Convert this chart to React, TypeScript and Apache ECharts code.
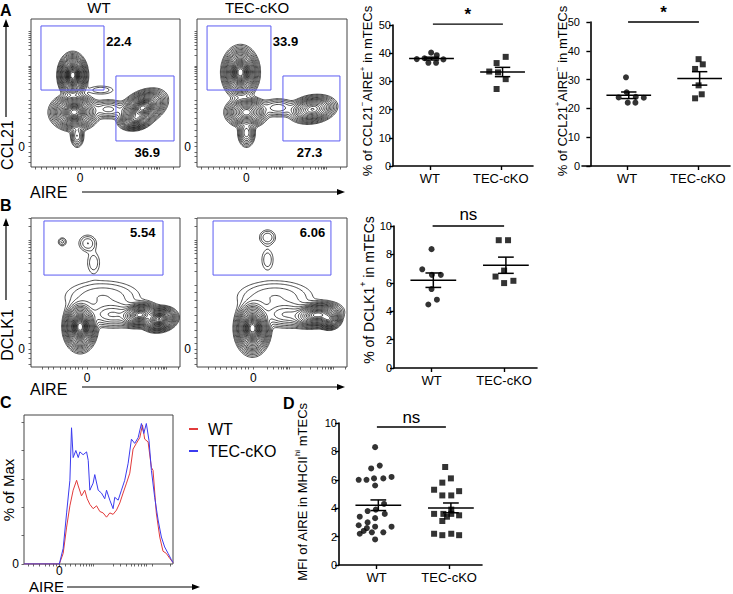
import React, { useEffect, useRef } from 'react';
import * as echarts from 'echarts';

const FONT = '"Liberation Sans", Arial, Helvetica, sans-serif';

// ---------- Scatter data (x = jitter position, y = value) ----------
const CAT_X = [1.05, 3.08];
const CAT_NAMES = ['WT', 'TEC-cKO'];

const a1WT: number[][] = [[0.68, 37.9], [0.9, 38.2], [1.09, 40.2], [1.25, 39.3], [1.01, 36.6], [1.23, 36.6], [1.44, 37.8]];
const a1KO: number[][] = [[3.22, 38.7], [2.96, 36.5], [2.75, 33.5], [3.0, 33.2], [3.22, 30.8], [2.96, 27.3]];

const a2WT: number[][] = [[0.81, 23.8], [1.04, 25.6], [1.02, 30.8], [1.53, 23.7], [1.07, 22.0], [1.29, 22.0], [1.3, 24.0]];
const a2KO: number[][] = [[3.1, 37.1], [3.22, 35.3], [3.0, 33.7], [3.1, 28.0], [3.19, 24.9], [3.0, 23.5]];

const bWT: number[][] = [[1.05, 8.37], [0.79, 6.95], [1.06, 6.56], [1.31, 6.56], [1.05, 5.56], [1.2, 4.81], [0.96, 4.47]];
const bKO: number[][] = [[2.93, 9.0], [3.19, 9.0], [3.08, 6.86], [2.84, 6.44], [3.34, 6.14], [3.08, 5.98]];

const dWT: number[][] = [
  [1.01, 8.3], [0.9, 6.8], [1.14, 7.0], [0.55, 6.0], [0.77, 6.0], [0.98, 6.1], [1.24, 6.1], [1.47, 6.2], [1.01, 5.6],
  [1.26, 4.3], [1.03, 3.9], [0.8, 3.8], [1.28, 3.6], [0.58, 3.4], [1.01, 3.3], [0.8, 3.0],
  [0.55, 2.8], [1.47, 2.7], [1.01, 2.7], [0.78, 2.6], [0.69, 2.4], [0.92, 2.3], [1.24, 2.3], [0.58, 2.2], [1.01, 1.8],
];
const dKO: number[][] = [
  [2.97, 6.9], [3.13, 6.1], [2.89, 5.8], [2.66, 5.3], [3.36, 5.2], [2.89, 4.9], [3.14, 4.9],
  [3.14, 3.9], [2.92, 3.6], [2.66, 3.6], [3.14, 3.6], [3.36, 3.5], [3.02, 3.4], [2.89, 3.1],
  [2.66, 2.2], [2.89, 2.1], [3.14, 2.2], [3.36, 2.1],
];

// significance annotations: [x1, x2, yLine, yText]
const SIG_A1 = [1.14, 3.14, 50.3, 53.8];
const SIG_A2 = [1.08, 3.11, 50.0, 53.4];
const SIG_B = [1.08, 3.08, 10.0, 10.8];
const SIG_D = [1.06, 2.99, 9.72, 10.4];

// ---------- Histogram (panel C): [AIRE position, % of max] ----------
const histWT: number[][] = [
  [0, 0], [23.7, 0], [26.3, 7.5], [28.6, 26], [30.8, 41], [33.0, 52], [35.3, 59], [36.4, 55], [38.6, 48], [40.8, 52],
  [42.4, 46], [44.2, 42], [46.4, 39], [48.7, 41], [50.9, 37], [53.1, 36], [55.4, 33], [57.6, 36], [59.8, 35],
  [62.1, 38], [64.3, 43], [66.5, 50], [68.8, 57], [71.0, 64], [73.2, 81], [75.4, 85], [77.7, 89], [79.5, 98],
  [81.0, 88], [83.3, 86], [85.5, 68], [86.6, 66], [88.8, 36], [91.1, 19], [93.3, 9], [95.5, 7.5], [97.8, 4], [100, 1],
];
const histKO: number[][] = [
  [0, 0], [23.7, 0], [26.3, 11], [28.6, 36], [30.8, 59], [31.9, 96], [33.0, 75], [34.8, 80], [36.4, 75], [37.5, 79],
  [39.7, 77], [42.0, 79], [43.1, 73], [44.2, 52], [46.4, 57], [47.5, 63], [49.8, 52], [52.0, 50], [54.2, 46],
  [55.4, 52], [57.6, 45], [59.8, 39], [60.9, 47], [63.2, 45], [65.4, 52], [67.6, 59], [69.9, 71], [72.1, 88],
  [74.3, 85], [76.6, 89], [78.8, 99], [80.4, 92], [82.1, 99], [83.9, 87], [85.5, 66], [87.7, 47], [90.0, 31],
  [92.2, 19], [94.4, 12], [96.7, 7.5], [98.9, 3], [100, 1],
];
const HIST_X_TICKS = [2.9, 6.3, 10.3, 14.1, 17.0, 19.6, 21.4, 23.7, 27.5, 30.8, 34.2, 37.5, 39.7, 42.0, 43.8, 44.9, 46.4, 60.0, 64.5, 68.8, 72.1, 74.3, 76.6, 78.8, 80.6, 82.1, 86.2, 98.0];
const HIST_X_ZERO = 23.7;
const HIST_Y_TICKS = [0, 20, 40, 60, 80, 100];

// ---------- Flow plots: populations [cx, cy, sx, sy, angleDeg, weight] in box units 0..100 ----------
const popsAWT: number[][] = [
  [28, 62, 3.3, 5.0, 0, 1.0], [29, 37, 5.5, 4.2, 0, 0.85],
  [75, 40, 5.8, 3.6, 28, 0.9], [70, 32, 4, 2.5, 10, 0.45], [52, 39, 6, 3, 0, 0.05],
  [31, 21, 2, 3.5, 0, 0.06], [47, 52, 6, 2, 0, 0.012],
];
const popsAKO: number[][] = [
  [29, 64, 4.1, 5.8, 0, 1.0], [33, 37, 5, 3.7, 0, 0.5], [33, 23, 2.4, 4, 0, 0.1],
  [77, 39, 5.7, 3.3, 10, 0.45], [54, 40, 6, 3, 0, 0.04],
];
const popsBWT: number[][] = [
  [33, 27, 3.8, 5.6, 0, 1.0], [73, 35, 4.6, 2.9, 10, 0.6], [86, 32, 4.3, 2.9, 10, 0.75],
  [55, 35, 9, 4, 0, 0.06], [48, 47, 15, 6.5, 0, 0.02], [21, 84, 1.8, 1.8, 0, 0.015],
  [38, 83, 3.5, 3.3, 0, 0.02], [42, 70, 3, 5, 0, 0.012],
];
const popsBKO: number[][] = [
  [37, 26, 4, 6, 0, 1.0], [80, 35, 6, 3, 8, 0.6], [88, 32, 3, 2.5, 0, 0.4],
  [60, 35, 9, 4, 0, 0.06], [52, 47, 15, 6.5, 0, 0.02], [47, 87, 3.2, 3, 0, 0.02], [47, 72, 2.8, 5, 0, 0.012],
];
const CONTOUR_LEVELS = [0.92, 0.86, 0.8, 0.74, 0.68, 0.62, 0.56, 0.5, 0.44, 0.38, 0.32, 0.26, 0.2, 0.15, 0.11, 0.08, 0.06, 0.043, 0.03, 0.02, 0.013, 0.008, 0.005];

// gates [x1, y1, x2, y2] and gate labels [x, y]
const gatesAWT = [[6.7, 52, 49.0, 95.3], [57.0, 17.6, 96.0, 61.5]];
const gatesAKO = [[6.7, 52, 49.3, 95.3], [57.3, 17.6, 95.3, 61.5]];
const gatesBWT = [[8.7, 61.7, 88.6, 98]];
const gatesBKO = [[10.7, 61.7, 89.3, 98]];
const labelsAWT = ['22.4', '36.9'];
const labelPosAWT = [[59, 85], [78, 9.5]];
const labelsAKO = ['33.9', '27.3'];
const labelPosAKO = [[59, 85], [75, 9.5]];
const labelsBWT = ['5.54'];
const labelPosBWT = [[75, 90.6]];
const labelsBKO = ['6.06'];
const labelPosBKO = [[77, 90.6]];

const FLOW_X_TICKS_A = [2.7, 7.2, 10.5, 15, 18.3, 21.7, 25, 27.3, 29.5, 32.9, 41.8, 46.3, 49.2, 51.2, 53, 54.6, 55.7, 56.8, 64.2, 70.9, 75.4, 78.7, 81, 82.6, 83.9, 85, 86.1, 95.5];
const FLOW_X_TICKS_B = [7.4, 11.9, 15.2, 19.7, 23, 26.4, 29.7, 32, 34.2, 37.6, 46.5, 51, 53.9, 55.9, 57.7, 59.3, 60.4, 61.5, 68.9, 75.6, 80.1, 83.4, 85.7, 87.3, 88.6, 89.7, 90.8, 99];
const FLOW_Y_TICKS_A = [3, 7, 10, 13.7, 17, 21, 25, 29, 33, 37, 40, 42.5, 45.3, 52.3, 56.3, 59.2, 61.4, 63.3, 64.8, 66.2, 67.3, 68.4, 75.3, 79.4, 82.2, 84.5, 86.3, 87.8, 89.2, 90.3, 91.4];
const FLOW_Y_TICKS_B = [2, 6, 9, 12.1, 16, 20, 25, 30, 35, 40, 45, 50, 55, 64.1, 69.4, 73.2, 76.1, 78.5, 80.5, 82.3, 83.8, 85.2, 94.3, 99.6];
const FLOW_X_ZERO_A = 32.9;
const FLOW_X_ZERO_B = 37.6;
const FLOW_Y_ZERO_A = 13.7;
const FLOW_Y_ZERO_B = 12.1;

// ---------- contour computation (marching squares over population densities) ----------
function contourSegments(pops: number[][], levels: number[], N = 120): number[] {
  const h = 100 / N;
  const W = N + 1;
  const g = new Float64Array(W * W);
  let mx = 0;
  const pre = pops.map(([cx, cy, sx, sy, ang, w]) => {
    const a = (ang * Math.PI) / 180;
    return [cx, cy, sx, sy, Math.cos(a), Math.sin(a), w];
  });
  for (let j = 0; j < W; j++) {
    for (let i = 0; i < W; i++) {
      const x = i * h, y = j * h;
      let s = 0;
      for (const [cx, cy, sx, sy, c, sn, w] of pre) {
        const dx = x - cx, dy = y - cy;
        const u = (dx * c + dy * sn) / sx;
        const v = (-dx * sn + dy * c) / sy;
        s += w * Math.exp(-0.5 * (u * u + v * v));
      }
      g[j * W + i] = s;
      if (s > mx) mx = s;
    }
  }
  const segs: number[] = [];
  const table: number[][] = [
    [], [3, 0], [0, 1], [3, 1], [1, 2], [3, 0, 1, 2], [0, 2], [3, 2],
    [2, 3], [0, 2], [0, 1, 2, 3], [1, 2], [3, 1], [0, 1], [3, 0], [],
  ];
  for (const lv of levels) {
    const t = lv * mx;
    for (let j = 0; j < N; j++) {
      for (let i = 0; i < N; i++) {
        const a = g[j * W + i], b = g[j * W + i + 1], c = g[(j + 1) * W + i + 1], d = g[(j + 1) * W + i];
        const idx = (a > t ? 1 : 0) | (b > t ? 2 : 0) | (c > t ? 4 : 0) | (d > t ? 8 : 0);
        if (idx === 0 || idx === 15) continue;
        const x0 = i * h, y0 = j * h;
        const ep = (e: number): number[] => {
          if (e === 0) return [x0 + ((t - a) / (b - a)) * h, y0];
          if (e === 1) return [x0 + h, y0 + ((t - b) / (c - b)) * h];
          if (e === 2) return [x0 + ((t - d) / (c - d)) * h, y0 + h];
          return [x0, y0 + ((t - a) / (d - a)) * h];
        };
        const tb = table[idx];
        for (let k = 0; k < tb.length; k += 2) {
          const p = ep(tb[k]), q = ep(tb[k + 1]);
          segs.push(p[0], p[1], q[0], q[1]);
        }
      }
    }
  }
  return segs;
}

const ContourPath = (echarts as any).graphic.extendShape({
  shape: { segs: [] as number[] },
  buildPath(ctx: any, shape: any) {
    const s = shape.segs;
    for (let k = 0; k + 3 < s.length; k += 4) {
      ctx.moveTo(s[k], s[k + 1]);
      ctx.lineTo(s[k + 2], s[k + 3]);
    }
  },
});
(echarts as any).graphic.registerShape('contourPath', ContourPath);

function mean(v: number[]) { return v.reduce((s, x) => s + x, 0) / v.length; }
function sem(v: number[]) {
  const m = mean(v);
  const sd = Math.sqrt(v.reduce((s, x) => s + (x - m) * (x - m), 0) / (v.length - 1));
  return sd / Math.sqrt(v.length);
}

const GATE_COLOR = '#5b5bf2';

export default function App() {
  const ref = useRef<HTMLDivElement>(null);
  useEffect(() => {
    if (!ref.current) return;
    const chart = echarts.init(ref.current, undefined, { renderer: 'svg' });

    const grids: any[] = [];
    const xAxes: any[] = [];
    const yAxes: any[] = [];
    const series: any[] = [];

    const flowPanel = (
      box: number[], pops: number[][], gates: number[][], labels: string[], labelPos: number[][],
      xTicks: number[], yTicks: number[], xZero: number, yZero: number,
    ) => {
      const gi = grids.length;
      grids.push({ left: box[0], top: box[1], width: box[2], height: box[3], show: true, borderColor: '#444', borderWidth: 1, backgroundColor: 'transparent' });
      const tickStyle = { show: true, length: 2.5, lineStyle: { color: '#444', width: 0.8 } };
      xAxes.push({
        gridIndex: gi, type: 'value', min: 0, max: 100, axisLine: { show: false }, splitLine: { show: false },
        axisTick: { ...tickStyle, customValues: xTicks },
        axisLabel: { customValues: [xZero], formatter: () => '0', fontSize: 12, color: '#000', fontFamily: FONT, margin: 5 },
      });
      yAxes.push({
        gridIndex: gi, type: 'value', min: 0, max: 100, axisLine: { show: false }, splitLine: { show: false },
        axisTick: { ...tickStyle, customValues: yTicks },
        axisLabel: { customValues: [yZero], formatter: () => '0', fontSize: 12, color: '#000', fontFamily: FONT, margin: 6 },
      });
      const segs = contourSegments(pops, CONTOUR_LEVELS);
      series.push({
        type: 'custom', xAxisIndex: gi, yAxisIndex: gi, silent: true, clip: true, data: [[0, 0]],
        renderItem: (_p: any, api: any) => {
          const p0 = api.coord([0, 0]);
          const p1 = api.coord([100, 100]);
          const kx = (p1[0] - p0[0]) / 100, ky = (p1[1] - p0[1]) / 100;
          const out: number[] = new Array(segs.length);
          for (let k = 0; k < segs.length; k += 2) {
            out[k] = p0[0] + segs[k] * kx;
            out[k + 1] = p0[1] + segs[k + 1] * ky;
          }
          return { type: 'contourPath', shape: { segs: out }, style: { stroke: '#000', lineWidth: 0.7, fill: null } };
        },
      });
      series.push({
        type: 'custom', xAxisIndex: gi, yAxisIndex: gi, silent: true, data: gates,
        renderItem: (_p: any, api: any) => {
          const a = api.coord([api.value(0), api.value(3)]);
          const b = api.coord([api.value(2), api.value(1)]);
          return { type: 'rect', shape: { x: a[0], y: a[1], width: b[0] - a[0], height: b[1] - a[1] }, style: { stroke: GATE_COLOR, fill: null, lineWidth: 1 } };
        },
      });
      series.push({
        type: 'custom', xAxisIndex: gi, yAxisIndex: gi, silent: true, data: labelPos,
        renderItem: (p: any, api: any) => {
          const a = api.coord([api.value(0), api.value(1)]);
          return { type: 'text', x: a[0], y: a[1], style: { text: labels[p.dataIndex], fontSize: 13, fontWeight: 'bold', fontFamily: FONT, fill: '#000', align: 'center', verticalAlign: 'middle' } };
        },
      });
    };

    const scatterPanel = (
      box: number[], xmin: number, ymax: number, yint: number, wt: number[][], ko: number[][], sig: number[], sigText: string, sigSize: number, sigBold: boolean, id: string,
    ) => {
      const gi = grids.length;
      grids.push({ left: box[0], top: box[1], width: box[2], height: box[3] });
      const axisLine = { show: true, lineStyle: { color: '#000', width: 1.6 } };
      xAxes.push({
        gridIndex: gi, type: 'value', min: xmin, max: 4, axisLine, splitLine: { show: false },
        axisTick: { show: true, length: 4, customValues: CAT_X, lineStyle: { color: '#000', width: 1.4 } },
        axisLabel: {
          customValues: CAT_X, fontSize: 13, color: '#000', fontFamily: FONT, margin: 6,
          formatter: (v: number) => (Math.abs(v - CAT_X[0]) < 0.01 ? CAT_NAMES[0] : CAT_NAMES[1]),
        },
      });
      yAxes.push({
        gridIndex: gi, type: 'value', min: 0, max: ymax, interval: yint, axisLine, splitLine: { show: false },
        axisTick: { show: true, length: 4, lineStyle: { color: '#000', width: 1.4 } },
        axisLabel: { fontSize: 11, color: '#000', fontFamily: FONT, margin: 2 },
      });
      series.push({ name: id + '-wt', type: 'scatter', xAxisIndex: gi, yAxisIndex: gi, data: wt, symbol: 'circle', symbolSize: 6, itemStyle: { color: '#000' }, silent: true });
      series.push({ name: id + '-ko', type: 'scatter', xAxisIndex: gi, yAxisIndex: gi, data: ko, symbol: 'rect', symbolSize: 6, itemStyle: { color: '#000' }, silent: true });
      const stats = [
        [CAT_X[0] + 0.05, mean(wt.map((d) => d[1])), sem(wt.map((d) => d[1]))],
        [CAT_X[1] + 0.05, mean(ko.map((d) => d[1])), sem(ko.map((d) => d[1]))],
      ];
      series.push({
        type: 'custom', xAxisIndex: gi, yAxisIndex: gi, silent: true, clip: false, data: stats,
        renderItem: (_p: any, api: any) => {
          const x = api.value(0), m = api.value(1), s = api.value(2);
          const L = (x1: number, y1: number, x2: number, y2: number) => {
            const a = api.coord([x1, y1]), b = api.coord([x2, y2]);
            return { type: 'line', shape: { x1: a[0], y1: a[1], x2: b[0], y2: b[1] }, style: { stroke: '#000', lineWidth: 1.5 } };
          };
          return { type: 'group', children: [L(x - 0.64, m, x + 0.64, m), L(x - 0.22, m + s, x + 0.22, m + s), L(x - 0.22, m - s, x + 0.22, m - s), L(x, m - s, x, m + s)] };
        },
      });
      series.push({
        type: 'custom', xAxisIndex: gi, yAxisIndex: gi, silent: true, clip: false, data: [sig],
        renderItem: (_p: any, api: any) => {
          const a = api.coord([api.value(0), api.value(2)]);
          const b = api.coord([api.value(1), api.value(2)]);
          const t = api.coord([(api.value(0) + api.value(1)) / 2, api.value(3)]);
          return {
            type: 'group', children: [
              { type: 'line', shape: { x1: a[0], y1: a[1], x2: b[0], y2: b[1] }, style: { stroke: '#000', lineWidth: 1.3 } },
              { type: 'text', x: t[0], y: t[1], style: { text: sigText, fontSize: sigSize, fontWeight: sigBold ? 'bold' : 'normal', fontFamily: FONT, fill: '#000', align: 'center', verticalAlign: 'middle' } },
            ],
          };
        },
      });
    };

    // Panel A
    flowPanel([31, 19, 149, 148], popsAWT, gatesAWT, labelsAWT, labelPosAWT, FLOW_X_TICKS_A, FLOW_Y_TICKS_A, FLOW_X_ZERO_A, FLOW_Y_ZERO_A);
    flowPanel([197, 19, 150, 148], popsAKO, gatesAKO, labelsAKO, labelPosAKO, FLOW_X_TICKS_A, FLOW_Y_TICKS_A, FLOW_X_ZERO_A, FLOW_Y_ZERO_A);
    scatterPanel([393, 25, 140, 141], 0, 50, 10, a1WT, a1KO, SIG_A1, '*', 17, true, 'a1');
    scatterPanel([582, 22, 148, 144], -0.24, 50, 10, a2WT, a2KO, SIG_A2, '*', 17, true, 'a2');
    // Panel B
    flowPanel([31, 218, 149, 149], popsBWT, gatesBWT, labelsBWT, labelPosBWT, FLOW_X_TICKS_B, FLOW_Y_TICKS_B, FLOW_X_ZERO_B, FLOW_Y_ZERO_B);
    flowPanel([197, 218, 150, 149], popsBKO, gatesBKO, labelsBKO, labelPosBKO, FLOW_X_TICKS_B, FLOW_Y_TICKS_B, FLOW_X_ZERO_B, FLOW_Y_ZERO_B);
    scatterPanel([394, 226, 143, 142], 0, 10, 2, bWT, bKO, SIG_B, 'ns', 17, false, 'b');

    // Panel C histogram
    const hc = grids.length;
    grids.push({ left: 24, top: 415, width: 149, height: 149, show: true, borderColor: '#444', borderWidth: 1, backgroundColor: 'transparent' });
    xAxes.push({
      gridIndex: hc, type: 'value', min: 0, max: 100, axisLine: { show: false }, splitLine: { show: false },
      axisTick: { show: true, length: 2.5, customValues: HIST_X_TICKS, lineStyle: { color: '#444', width: 0.8 } },
      axisLabel: { customValues: [HIST_X_ZERO], formatter: () => '0', fontSize: 12, color: '#000', fontFamily: FONT, margin: 1 },
    });
    yAxes.push({
      gridIndex: hc, type: 'value', min: 0, max: 105, axisLine: { show: false }, splitLine: { show: false },
      axisTick: { show: true, length: 2.5, customValues: HIST_Y_TICKS, lineStyle: { color: '#444', width: 0.8 } },
      axisLabel: { customValues: [0], formatter: () => '0', fontSize: 12, color: '#000', fontFamily: FONT, margin: 5 },
    });
    series.push({ name: 'WT', type: 'line', xAxisIndex: hc, yAxisIndex: hc, data: histWT, showSymbol: false, symbol: 'none', lineStyle: { color: '#e23b3b', width: 1 }, itemStyle: { color: '#e23b3b' }, silent: true });
    series.push({ name: 'TEC-cKO', type: 'line', xAxisIndex: hc, yAxisIndex: hc, data: histKO, showSymbol: false, symbol: 'none', lineStyle: { color: '#3b3bef', width: 1 }, itemStyle: { color: '#3b3bef' }, silent: true });

    // Panel D
    scatterPanel([339, 423, 143, 142], 0, 10, 2, dWT, dKO, SIG_D, 'ns', 17, false, 'd');

    const txt = (text: string, x: number, y: number, size: number, opts: any = {}) => ({
      type: 'text', x, y, rotation: opts.rot || 0,
      style: { text, fontSize: size, fontFamily: FONT, fontWeight: opts.bold ? 'bold' : 'normal', fill: '#000', align: opts.align || 'center', verticalAlign: 'middle', rich: opts.rich },
    });
    const mkRich = (fs: number) => ({
      a: { fontSize: fs, fontFamily: FONT, lineHeight: fs + 3, verticalAlign: 'bottom' },
      s: { fontSize: Math.round(fs * 0.65), fontFamily: FONT, lineHeight: fs + 3, verticalAlign: 'top' },
    });
    const hArrow = (x1: number, x2: number, y: number) => [
      { type: 'line', shape: { x1, y1: y, x2: x2 - 6, y2: y }, style: { stroke: '#000', lineWidth: 1.2 } },
      { type: 'polygon', shape: { points: [[x2, y], [x2 - 8, y - 3], [x2 - 8, y + 3]] }, style: { fill: '#000' } },
    ];
    const vArrow = (x: number, y1: number, y2: number) => [
      { type: 'line', shape: { x1: x, y1, x2: x, y2: y2 + 6 }, style: { stroke: '#000', lineWidth: 1.2 } },
      { type: 'polygon', shape: { points: [[x, y2], [x - 3, y2 + 8], [x + 3, y2 + 8]] }, style: { fill: '#000' } },
    ];

    const graphic: any[] = [
      txt('A', 0, 10, 16, { bold: true, align: 'left' }),
      txt('B', 0, 205, 16, { bold: true, align: 'left' }),
      txt('C', 0, 402, 16, { bold: true, align: 'left' }),
      txt('D', 283, 403, 16, { bold: true, align: 'left' }),
      txt('WT', 99, 7, 15),
      txt('TEC-cKO', 257, 7, 15),
      txt('CCL21', 7, 145, 16, { rot: Math.PI / 2 }),
      txt('DCLK1', 7, 335, 16, { rot: Math.PI / 2 }),
      txt('% of Max', 8, 490, 15, { rot: Math.PI / 2 }),
      txt('AIRE', 30, 192, 16, { align: 'left' }),
      txt('AIRE', 30, 389, 16, { align: 'left' }),
      txt('AIRE', 29, 586, 15, { align: 'left' }),
      ...vArrow(6, 117, 19),
      ...vArrow(6, 300, 218),
      ...hArrow(82, 345, 192),
      ...hArrow(82, 345, 387),
      ...hArrow(67, 200, 587),
      txt('{a|% of CCL21}{s|−}{a|AIRE}{s|+}{a| in mTECs}', 366, 91, 13, { rot: Math.PI / 2, rich: mkRich(13) }),
      txt('{a|% of CCL21}{s|+}{a|AIRE}{s|−}{a| in mTECs}', 561, 91, 13, { rot: Math.PI / 2, rich: mkRich(13) }),
      txt('{a|% of DCLK1}{s|+}{a| in mTECs}', 367, 290, 14, { rot: Math.PI / 2, rich: mkRich(14) }),
      txt('{a|MFI of AIRE in MHCII}{s|hi}{a| mTECs}', 301, 492, 13, { rot: Math.PI / 2, rich: mkRich(13) }),
    ];

    chart.setOption({
      animation: false,
      backgroundColor: '#fff',
      textStyle: { fontFamily: FONT },
      grid: grids,
      xAxis: xAxes,
      yAxis: yAxes,
      series,
      legend: {
        data: ['WT', 'TEC-cKO'], left: 184, top: 416, orient: 'vertical', icon: 'rect', itemWidth: 9, itemHeight: 2,
        itemGap: 6, selectedMode: false,
        textStyle: { fontSize: 16, fontFamily: FONT, color: '#000', padding: [0, 0, 0, 5] },
      },
      graphic,
    });
    return () => chart.dispose();
  }, []);
  return <div ref={ref} style={{ position: 'absolute', left: 0, top: 0, width: 733, height: 594, background: '#fff' }} />;
}
